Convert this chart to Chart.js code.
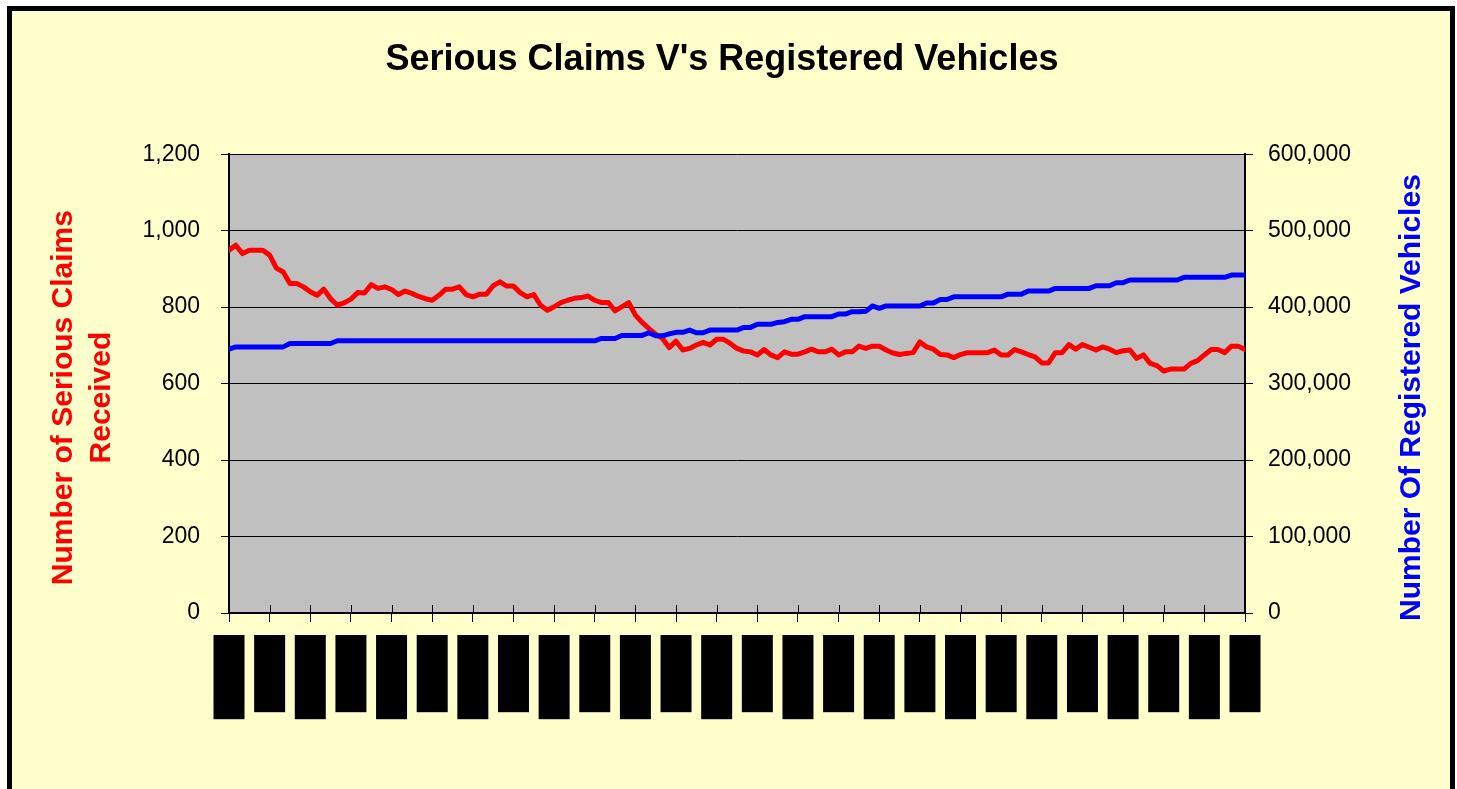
<!DOCTYPE html>
<html><head><meta charset="utf-8">
<script src="https://cdn.jsdelivr.net/npm/chart.js@4.4.1/dist/chart.umd.min.js"></script>
<style>
html,body{margin:0;padding:0;background:#fff;overflow:hidden;width:1457px;height:789px;}
#frame{position:absolute;left:7px;top:6px;width:1438px;height:790px;border:5px solid #000;background:#FFFFCC;}
canvas{display:block;}
</style></head><body>
<div id="frame"><canvas id="c" width="1438" height="790"></canvas></div>
<script>
// ---- data ----
const chartTitle = "Serious Claims V's Registered Vehicles";
const leftTitle = ["Number of Serious Claims", "Received"];
const rightTitle = "Number Of Registered Vehicles";

const xLabels = ["Jan-93","Jul-93","Jan-94","Jul-94","Jan-95","Jul-95","Jan-96","Jul-96","Jan-97","Jul-97",
                 "Jan-98","Jul-98","Jan-99","Jul-99","Jan-00","Jul-00","Jan-01","Jul-01","Jan-02","Jul-02",
                 "Jan-03","Jul-03","Jan-04","Jul-04","Jan-05","Jul-05"];

const claims = [
 949,962,940,949,949,949,936,902,892,862,
 862,853,840,831,847,822,805,811,821,838,
 837,859,849,853,846,833,842,836,828,822,
 818,831,847,847,853,833,827,834,834,856,
 866,855,855,838,827,833,805,792,801,812,
 818,823,825,829,818,812,812,790,801,812,
 779,760,744,729,718,694,711,688,692,701,
 708,701,716,716,705,692,685,683,675,689,
 675,668,683,677,677,683,690,683,683,690,
 675,683,683,698,692,698,698,688,680,676,
 679,681,709,696,690,676,675,668,676,681,
 681,681,681,688,675,675,689,683,676,670,
 654,654,681,681,702,690,702,695,688,696,
 690,681,686,688,666,675,653,647,633,638,
 638,638,653,660,675,689,689,681,698,698,
 689
];

const vehicles = [
 345000,348000,348000,348000,348000,348000,348000,348000,348000,352500,
 352500,352500,352500,352500,352500,352500,356000,356000,356000,356000,
 356000,356000,356000,356000,356000,356000,356000,356000,356000,356000,
 356000,356000,356000,356000,356000,356000,356000,356000,356000,356000,
 356000,356000,356000,356000,356000,356000,356000,356000,356000,356000,
 356000,356000,356000,356000,356000,359000,359000,359000,363000,363000,
 363000,363000,366500,362500,362500,365000,367000,367000,370000,366500,
 366500,370000,370000,370000,370000,370000,373500,373500,377500,377500,
 377500,380000,381000,384000,384000,387500,387500,387500,387500,387500,
 391000,391000,394000,394000,394500,401500,398500,401500,401500,401500,
 401500,401500,401500,405500,405500,410000,410000,413500,413500,413500,
 413500,413500,413500,413500,413500,417000,417000,417000,421000,421000,
 421000,421000,424500,424500,424500,424500,424500,424500,428000,428000,
 428000,432000,432000,435500,435500,435500,435500,435500,435500,435500,
 435500,439000,439000,439000,439000,439000,439000,439000,442000,442000,
 442000
];

// ---- chart ----
const FONT = '"Liberation Sans", Arial, Helvetica, sans-serif';
Chart.defaults.font.family = FONT;

const plotBg = {
  id: 'plotBg',
  beforeDraw(chart) {
    const {ctx, chartArea: a} = chart;
    ctx.save();
    ctx.fillStyle = '#C0C0C0';
    ctx.fillRect(a.left, a.top, a.right - a.left, a.bottom - a.top);
    ctx.restore();
  }
};

const extras = {
  id: 'extras',
  afterDraw(chart) {
    const {ctx, chartArea: a} = chart;
    const xs = chart.scales.x;
    ctx.save();
    // inner half of x tick marks (cross ticks)
    ctx.strokeStyle = '#000';
    ctx.lineWidth = 1;
    ctx.beginPath();
    xs.ticks.forEach((t, i) => {
      const px = Math.round(xs.getPixelForTick(i)) + 0.5;
      ctx.moveTo(px, a.bottom - 8);
      ctx.lineTo(px, a.bottom);
    });
    ctx.stroke();
    // axis titles
    const cy = (a.top + a.bottom) / 2 + 14;
    ctx.font = 'bold 30px ' + FONT;
    ctx.textAlign = 'center';
    ctx.textBaseline = 'middle';
    ctx.fillStyle = '#FF0000';
    const lx = chart.scales.y.left + 52;
    leftTitle.forEach((line, i) => {
      ctx.save();
      ctx.translate(lx + i * 38, cy);
      ctx.rotate(-Math.PI / 2);
      ctx.fillText(line, 0, 0);
      ctx.restore();
    });
    ctx.fillStyle = '#0000FF';
    ctx.save();
    ctx.translate(chart.scales.y1.right - 20, cy);
    ctx.rotate(-Math.PI / 2);
    ctx.fillText(rightTitle, 0, 0);
    ctx.restore();
    ctx.restore();
  }
};

new Chart(document.getElementById('c'), {
  type: 'line',
  data: {
    datasets: [
      {
        label: 'Serious Claims',
        data: claims.map((v, i) => ({x: i, y: v})),
        yAxisID: 'y',
        borderColor: '#FF0000',
        borderWidth: 5,
        pointRadius: 0,
        tension: 0,
        borderJoinStyle: 'round',
        borderCapStyle: 'round',
        order: 2
      },
      {
        label: 'Registered Vehicles',
        data: vehicles.map((v, i) => ({x: i, y: v})),
        yAxisID: 'y1',
        borderColor: '#0000FF',
        borderWidth: 5,
        pointRadius: 0,
        tension: 0,
        borderJoinStyle: 'round',
        borderCapStyle: 'round',
        order: 1
      }
    ]
  },
  options: {
    responsive: false,
    animation: false,
    events: [],
    layout: {padding: {left: 0, right: 18, top: 0, bottom: 0}},
    plugins: {
      legend: {display: false},
      tooltip: {enabled: false},
      title: {
        display: true,
        text: chartTitle,
        color: '#000',
        font: {size: 36, weight: 'bold', family: FONT},
        padding: {top: 27, bottom: 73}
      }
    },
    scales: {
      x: {
        type: 'linear',
        min: 0,
        max: claims.length - 1,
        afterFit: s => { s.height = 188; },
        grid: {drawOnChartArea: false, drawTicks: true, tickLength: 9, color: '#000', lineWidth: 1},
        border: {display: true, color: '#000', width: 2},
        ticks: {
          stepSize: 6,
          autoSkip: false,
          minRotation: 90,
          maxRotation: 90,
          padding: 17,
          color: '#000',
          font: {size: 21, lineHeight: '2px'},
          showLabelBackdrop: true,
          backdropColor: '#000',
          backdropPadding: {top: 15.5, bottom: 13.5, left: 16, right: 4},
          callback: v => xLabels[Math.round(v / 6)] ?? ''
        }
      },
      y: {
        position: 'left',
        min: 0,
        max: 1200,
        afterFit: s => { s.width = 217; },
        grid: {color: '#000', lineWidth: 1, tickLength: 8, drawTicks: true},
        border: {color: '#000', width: 2},
        ticks: {stepSize: 200, padding: 21, color: '#000', font: {size: 23}, callback: v => v.toLocaleString('en-US')}
      },
      y1: {
        position: 'right',
        min: 0,
        max: 600000,
        afterFit: s => { s.width = 187; },
        grid: {drawOnChartArea: false, color: '#000', lineWidth: 1, tickLength: 8},
        border: {color: '#000', width: 2},
        ticks: {stepSize: 100000, padding: 15, color: '#000', font: {size: 23}, callback: v => v.toLocaleString('en-US')}
      }
    }
  },
  plugins: [plotBg, extras]
});
</script>
</body></html>
